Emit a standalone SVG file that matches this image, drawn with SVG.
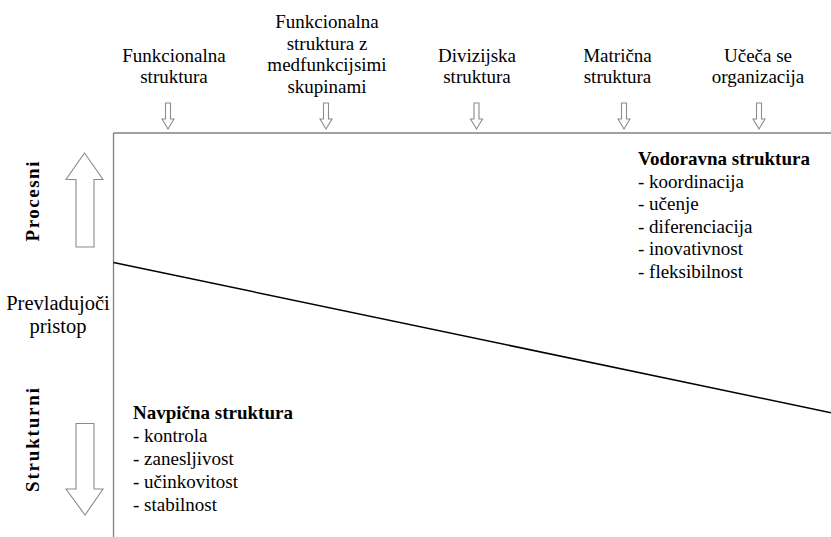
<svg xmlns="http://www.w3.org/2000/svg" width="831" height="537" viewBox="0 0 831 537" font-family="'Liberation Serif', 'Times New Roman', Times, 'DejaVu Serif', serif">
  <style>
    text { font-family: "Liberation Serif", "Times New Roman", Times, "DejaVu Serif", serif; fill: #000; }
    .lbl { font-size: 19px; text-anchor: middle; }
    .list { font-size: 19px; }
    .head { font-size: 19px; font-weight: bold; }
    .side { font-size: 19px; font-weight: bold; text-anchor: middle; }
    .mid { font-size: 20.5px; text-anchor: middle; }
    .axis { stroke: #808080; stroke-width: 1.3; fill: none; }
    .arrow { fill: #fff; stroke: #8c8c8c; stroke-width: 1.1; }
    .trend { stroke: #000; stroke-width: 1.5; fill: none; }
  </style>
  <defs>
    <!-- small hollow down arrow, tip at (0,0) -->
    <path id="smallDown" d="M-2.5,-26 L2.5,-26 L2.5,-10 L6,-10 L0,0 L-6,-10 L-2.5,-10 Z"/>
  </defs>

  <!-- axes and trend line -->
  <g id="connectors">
    <line class="axis" x1="113.5" y1="133" x2="831" y2="133"/>
    <line class="axis" x1="113.5" y1="133" x2="113.5" y2="537"/>
    <line class="trend" x1="113.5" y1="262.5" x2="831" y2="412.8"/>
  </g>

  <!-- structure types along the top -->
  <g id="type-funkcionalna">
    <text class="lbl" x="174" y="62">Funkcionalna</text>
    <text class="lbl" x="174" y="83">struktura</text>
    <use href="#smallDown" class="arrow" x="168" y="129"/>
  </g>
  <g id="type-medfunkcijske">
    <text class="lbl" x="327" y="28">Funkcionalna</text>
    <text class="lbl" x="327" y="49.5">struktura z</text>
    <text class="lbl" x="327" y="71">medfunkcijsimi</text>
    <text class="lbl" x="327" y="92.5">skupinami</text>
    <use href="#smallDown" class="arrow" x="326" y="129"/>
  </g>
  <g id="type-divizijska">
    <text class="lbl" x="477" y="62">Divizijska</text>
    <text class="lbl" x="477" y="83">struktura</text>
    <use href="#smallDown" class="arrow" x="476.5" y="129"/>
  </g>
  <g id="type-matricna">
    <text class="lbl" x="617.5" y="62">Matrična</text>
    <text class="lbl" x="617.5" y="83">struktura</text>
    <use href="#smallDown" class="arrow" x="624" y="129"/>
  </g>
  <g id="type-uceca">
    <text class="lbl" x="758" y="62">Učeča se</text>
    <text class="lbl" x="758" y="83">organizacija</text>
    <use href="#smallDown" class="arrow" x="759" y="129"/>
  </g>

  <!-- vertical scale on the left -->
  <g id="procesni">
    <path class="arrow" d="M84.5,153 L103,179.5 L94,179.5 L94,247 L76,247 L76,179.5 L66,179.5 Z"/>
    <text class="side" transform="translate(38.5,201.5) rotate(-90)" textLength="80" lengthAdjust="spacing">Procesni</text>
  </g>
  <g id="prevladujoci">
    <text class="mid" x="58" y="310">Prevladujoči</text>
    <text class="mid" x="58" y="333">pristop</text>
  </g>
  <g id="strukturni">
    <path class="arrow" d="M76,423.5 L94,423.5 L94,489 L103,489 L85,515 L66,489 L76,489 Z"/>
    <text class="side" transform="translate(38.5,440) rotate(-90)" textLength="104" lengthAdjust="spacing">Strukturni</text>
  </g>

  <!-- characteristics -->
  <g id="vodoravna">
    <text class="head" x="638" y="164.5">Vodoravna struktura</text>
    <text class="list" x="638" y="187.5">- koordinacija</text>
    <text class="list" x="638" y="210">- učenje</text>
    <text class="list" x="638" y="232.5">- diferenciacija</text>
    <text class="list" x="638" y="255">- inovativnost</text>
    <text class="list" x="638" y="277.5">- fleksibilnost</text>
  </g>
  <g id="navpicna">
    <text class="head" x="133" y="419">Navpična struktura</text>
    <text class="list" x="133" y="441.5">- kontrola</text>
    <text class="list" x="133" y="464.5">- zanesljivost</text>
    <text class="list" x="133" y="487.5">- učinkovitost</text>
    <text class="list" x="133" y="510.5">- stabilnost</text>
  </g>
</svg>
